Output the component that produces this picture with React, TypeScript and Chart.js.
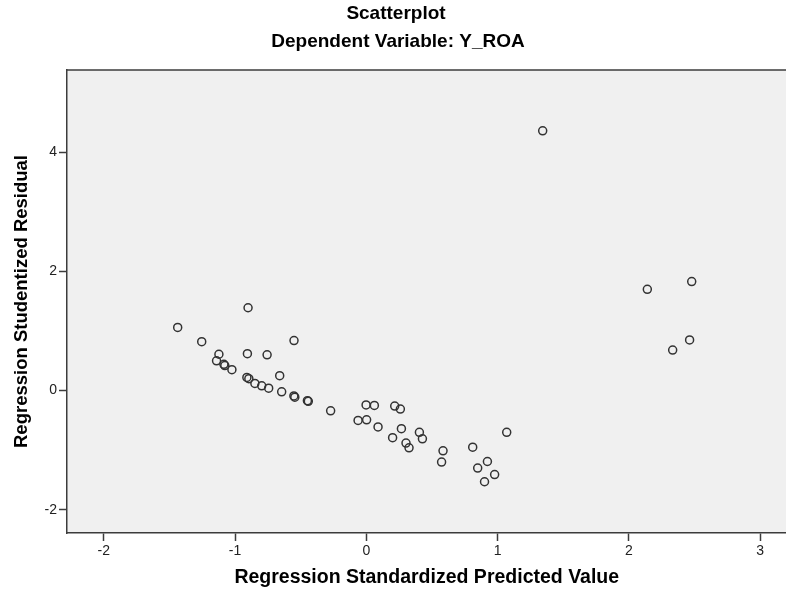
import React, { useEffect, useRef } from "react";
import { Chart, registerables } from "chart.js";

Chart.register(...registerables);

const predictedX: number[] = [
  1.343, -1.437, -0.901, -1.254, -0.551, -1.123, -0.906, -0.756, -1.141, -1.085,
  -1.078, -1.024, -0.66, -0.91, -0.895, -0.849, -0.797, -0.744, -0.645, -0.552,
  -0.545, -0.449, -0.442, -0.272, -0.002, 0.061, 0.216, 0.259, -0.063, 0.002,
  0.089, 0.267, 0.2, 0.404, 0.427, 0.302, 0.325, 0.584, 0.573, 0.81,
  1.069, 0.922, 0.848, 0.977, 0.9, 2.14, 2.478, 2.462, 2.333,
];
const residualY: number[] = [
  4.36, 1.06, 1.39, 0.82, 0.84, 0.61, 0.62, 0.6, 0.5, 0.44,
  0.42, 0.35, 0.25, 0.22, 0.2, 0.12, 0.08, 0.04, -0.02, -0.09,
  -0.11, -0.17, -0.18, -0.34, -0.24, -0.25, -0.26, -0.31, -0.5, -0.49,
  -0.61, -0.64, -0.79, -0.7, -0.81, -0.88, -0.96, -1.01, -1.2, -0.95,
  -0.7, -1.19, -1.3, -1.41, -1.53, 1.7, 1.83, 0.85, 0.68,
];
const xTicks: number[] = [-2, -1, 0, 1, 2, 3];
const yTicks: number[] = [-2, 0, 2, 4];

const chartTitle = "Scatterplot";
const chartSubtitle = "Dependent Variable: Y_ROA";
const xTitle = "Regression Standardized Predicted Value";
const yTitle = "Regression Studentized Residual";

const FONT = "'Liberation Sans', Arial, sans-serif";

export default function App() {
  const ref = useRef<HTMLCanvasElement | null>(null);

  useEffect(() => {
    if (!ref.current) return;
    const bgPlugin = {
      id: "bgPlugin",
      beforeDraw(chart: any) {
        const { ctx, chartArea: a } = chart;
        ctx.save();
        ctx.fillStyle = "#ffffff";
        ctx.fillRect(0, 0, chart.width, chart.height);
        ctx.fillStyle = "#f0f0f0";
        ctx.fillRect(a.left, a.top, a.right - a.left, a.bottom - a.top);
        ctx.restore();
      },
      afterDraw(chart: any) {
        const { ctx, chartArea: a } = chart;
        ctx.save();
        ctx.strokeStyle = "#3c3c3c";
        ctx.lineWidth = 1.5;
        ctx.beginPath();
        ctx.moveTo(a.left, a.top);
        ctx.lineTo(a.right, a.top);
        ctx.stroke();
        ctx.fillStyle = "#000000";
        ctx.textAlign = "center";
        ctx.textBaseline = "middle";
        ctx.font = `bold 19px ${FONT}`;
        ctx.fillText(chartTitle, 396, 14);
        ctx.fillText(chartSubtitle, 398, 42);
        ctx.restore();
      },
    };

    const chart = new Chart(ref.current, {
      type: "scatter",
      data: {
        datasets: [
          {
            data: predictedX.map((x, i) => ({ x, y: residualY[i] })),
            pointStyle: "circle",
            pointRadius: 4,
            pointHoverRadius: 4,
            pointBorderWidth: 1.5,
            borderColor: "#333333",
            backgroundColor: "rgba(0,0,0,0)",
          },
        ],
      },
      options: {
        animation: false,
        responsive: false,
        layout: { padding: { top: 70, right: 0, bottom: 0, left: 0 } },
        plugins: {
          legend: { display: false },
          tooltip: { enabled: false },
          title: { display: false },
        },
        scales: {
          x: {
            type: "linear",
            min: -2.28,
            max: 3.2,
            afterBuildTicks: (s: any) => {
              s.ticks = xTicks.map((v) => ({ value: v }));
            },
            afterFit: (s: any) => {
              s.height = 59;
            },
            grid: {
              display: true,
              drawOnChartArea: false,
              drawTicks: true,
              tickLength: 8,
              tickWidth: 1.5,
              color: "#3c3c3c",
            },
            border: { display: true, color: "#3c3c3c", width: 1.5 },
            ticks: {
              padding: 2,
              color: "#222222",
              font: { family: FONT, size: 14 },
              maxRotation: 0,
            },
            title: {
              display: true,
              text: xTitle,
              color: "#000000",
              font: { family: FONT, size: 19.5, weight: "bold", lineHeight: 1.2 },
              padding: { top: 0, bottom: 3 },
            },
          },
          y: {
            type: "linear",
            min: -2.39,
            max: 5.38,
            afterBuildTicks: (s: any) => {
              s.ticks = yTicks.map((v) => ({ value: v }));
            },
            afterFit: (s: any) => {
              s.width = 67;
            },
            grid: {
              display: true,
              drawOnChartArea: false,
              drawTicks: true,
              tickLength: 8,
              tickWidth: 1.5,
              color: "#3c3c3c",
            },
            border: { display: true, color: "#3c3c3c", width: 1.5 },
            ticks: {
              padding: 2,
              color: "#222222",
              font: { family: FONT, size: 14 },
            },
            title: {
              display: true,
              text: yTitle,
              color: "#000000",
              font: { family: FONT, size: 18.5, weight: "bold", lineHeight: 1.2 },
              padding: { top: 11, bottom: 0 },
            },
          },
        },
      },
      plugins: [bgPlugin],
    });
    return () => chart.destroy();
  }, []);

  return (
    <div
      style={{
        position: "fixed",
        left: 0,
        top: 0,
        width: 786,
        height: 592,
        overflow: "hidden",
        background: "#fff",
      }}
    >
      <canvas ref={ref} width={792} height={592} style={{ width: 792, height: 592, display: "block" }} />
    </div>
  );
}
